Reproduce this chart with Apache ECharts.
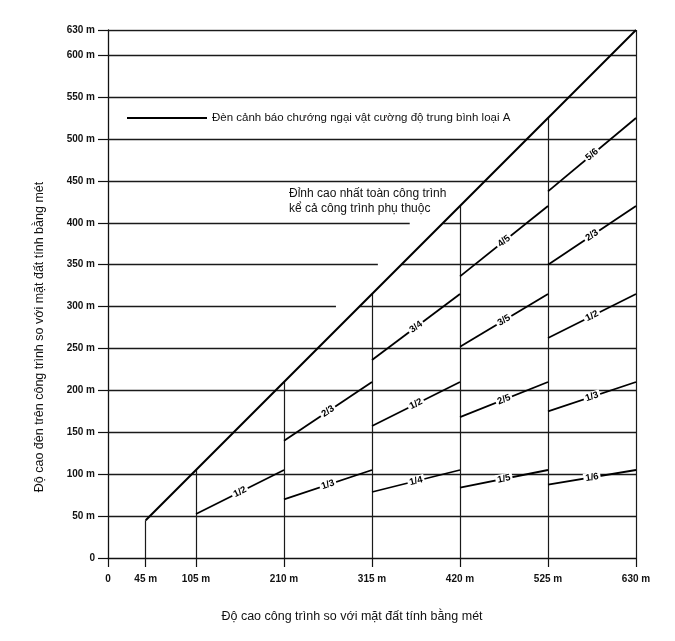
<!DOCTYPE html>
<html><head><meta charset="utf-8">
<script src="https://cdn.jsdelivr.net/npm/echarts@6/dist/echarts.min.js"></script>
<style>html,body{margin:0;padding:0;background:#fff}#c{width:675px;height:641px}</style>
</head><body><div id="c"></div>
<script>
// Axis tick values
const xTicks = [0, 45, 105, 210, 315, 420, 525, 630];
const yTicks = [0, 50, 100, 150, 200, 250, 300, 350, 400, 450, 500, 550, 600, 630];

// Horizontal rule segments: [height, xFrom, xTo]
const hRules = [
  [50, 0, 630], [100, 0, 630], [150, 0, 630], [200, 0, 630], [250, 0, 630],
  [300, 0, 272], [300, 300, 630],
  [350, 0, 322], [350, 350, 630],
  [400, 0, 360], [400, 400, 630],
  [450, 0, 630], [500, 0, 630], [550, 0, 630], [600, 0, 630], [630, 0, 630]
];

// Vertical rules: building height and the top of each rule
const vRuleX = [45, 105, 210, 315, 420, 525, 630];
const vRuleTop = [45, 105, 210, 315, 420, 525, 630];

// Highest point line (building top)
const topLineX = [45, 630];
const topLineY = [45, 630];

// Light level segments
const fracLabels = ['1/2', '1/3', '2/3', '1/4', '1/2', '3/4', '1/5', '2/5', '3/5', '4/5', '1/6', '1/3', '1/2', '2/3', '5/6'];
const fracX0 = [105, 210, 210, 315, 315, 315, 420, 420, 420, 420, 525, 525, 525, 525, 525];
const fracY0 = [52.5, 70, 140, 78.75, 157.5, 236.25, 84, 168, 252, 336, 87.5, 175, 262.5, 350, 437.5];
const fracX1 = [210, 315, 315, 420, 420, 420, 525, 525, 525, 525, 630, 630, 630, 630, 630];
const fracY1 = [105, 105, 210, 105, 210, 315, 105, 210, 315, 420, 105, 210, 315, 420, 525];

const legendName = 'Đèn cảnh báo chướng ngại vật cường độ trung bình loại A';
const noteText = 'Đỉnh cao nhất toàn công trình\nkể cả công trình phụ thuộc';
const xName = 'Độ cao công trình so với mặt đất tính bằng mét';
const yName = 'Độ cao đèn trên công trình so với mặt đất tính bằng mét';

const tickFont = { fontFamily: 'Liberation Sans', fontWeight: 'bold', fontSize: 10, color: '#111' };
const fmt = v => v === 0 ? '0' : v + ' m';

const chart = echarts.init(document.getElementById('c'), null, { renderer: 'canvas' });
chart.setOption({
  animation: false,
  color: ['#000'],
  backgroundColor: '#fff',
  grid: { left: 108, right: 39, top: 30, bottom: 83 },
  legend: {
    data: [{ name: legendName, icon: 'rect' }],
    left: 127, top: 112, padding: 0,
    itemWidth: 80, itemHeight: 2,
    selectedMode: false,
    itemStyle: { color: '#000', borderWidth: 0 },
    lineStyle: { width: 0 },
    textStyle: { fontFamily: 'Liberation Sans', fontSize: 11.5, color: '#111' }
  },
  graphic: [{
    type: 'text', left: 289, top: 186, silent: true,
    style: { text: noteText, font: '12px "Liberation Sans"', lineHeight: 15, fill: '#111' }
  }],
  xAxis: {
    type: 'value', min: 0, max: 630,
    name: xName, nameLocation: 'middle', nameGap: 52,
    nameTextStyle: { fontFamily: 'Liberation Sans', fontSize: 12.5, color: '#111', padding: [0, 40, 0, 0] },
    axisLine: { show: true, lineStyle: { color: '#111', width: 1.3 } },
    axisTick: { show: true, customValues: xTicks, length: 9, lineStyle: { color: '#111', width: 1.2 } },
    axisLabel: { customValues: xTicks, formatter: fmt, margin: 16, ...tickFont },
    splitLine: { show: false }
  },
  yAxis: {
    type: 'value', min: 0, max: 630,
    name: yName, nameLocation: 'middle', nameGap: 62,
    nameTextStyle: { fontFamily: 'Liberation Sans', fontSize: 12.5, color: '#111', padding: [0, 86, 0, 0] },
    axisLine: { show: true, lineStyle: { color: '#111', width: 1.3 } },
    axisTick: { show: true, customValues: yTicks, length: 10, lineStyle: { color: '#111', width: 1.2 } },
    axisLabel: { customValues: yTicks, formatter: fmt, margin: 13, ...tickFont },
    splitLine: { show: false }
  },
  series: [
    {
      type: 'lines', coordinateSystem: 'cartesian2d', silent: true, z: 1,
      lineStyle: { color: '#1a1a1a', width: 1.3, opacity: 1 },
      data: hRules.map(r => ({ coords: [[r[1], r[0]], [r[2], r[0]]] }))
    },
    {
      type: 'lines', coordinateSystem: 'cartesian2d', silent: true, z: 1,
      lineStyle: { color: '#1a1a1a', width: 1.2, opacity: 1 },
      data: vRuleX.map((x, i) => ({ coords: [[x, 0], [x, vRuleTop[i]]] }))
    },
    {
      type: 'lines', coordinateSystem: 'cartesian2d', silent: true, z: 3,
      lineStyle: { color: '#000', width: 2, opacity: 1 },
      data: [{ coords: [[topLineX[0], topLineY[0]], [topLineX[1], topLineY[1]]] }]
    },
    {
      name: legendName,
      type: 'lines', coordinateSystem: 'cartesian2d', silent: true, z: 4,
      itemStyle: { color: '#000' },
      lineStyle: { color: '#000', width: 1.8, opacity: 1 },
      label: {
        show: true, position: 'middle', formatter: '{b}', distance: 0, verticalAlign: 'middle',
        fontFamily: 'Liberation Sans', fontWeight: 'bold', fontSize: 9.5, color: '#000',
        backgroundColor: '#fff', padding: [0, 2]
      },
      data: fracLabels.map((n, i) => ({ name: n, coords: [[fracX0[i], fracY0[i]], [fracX1[i], fracY1[i]]] }))
    }
  ]
});
</script></body></html>
